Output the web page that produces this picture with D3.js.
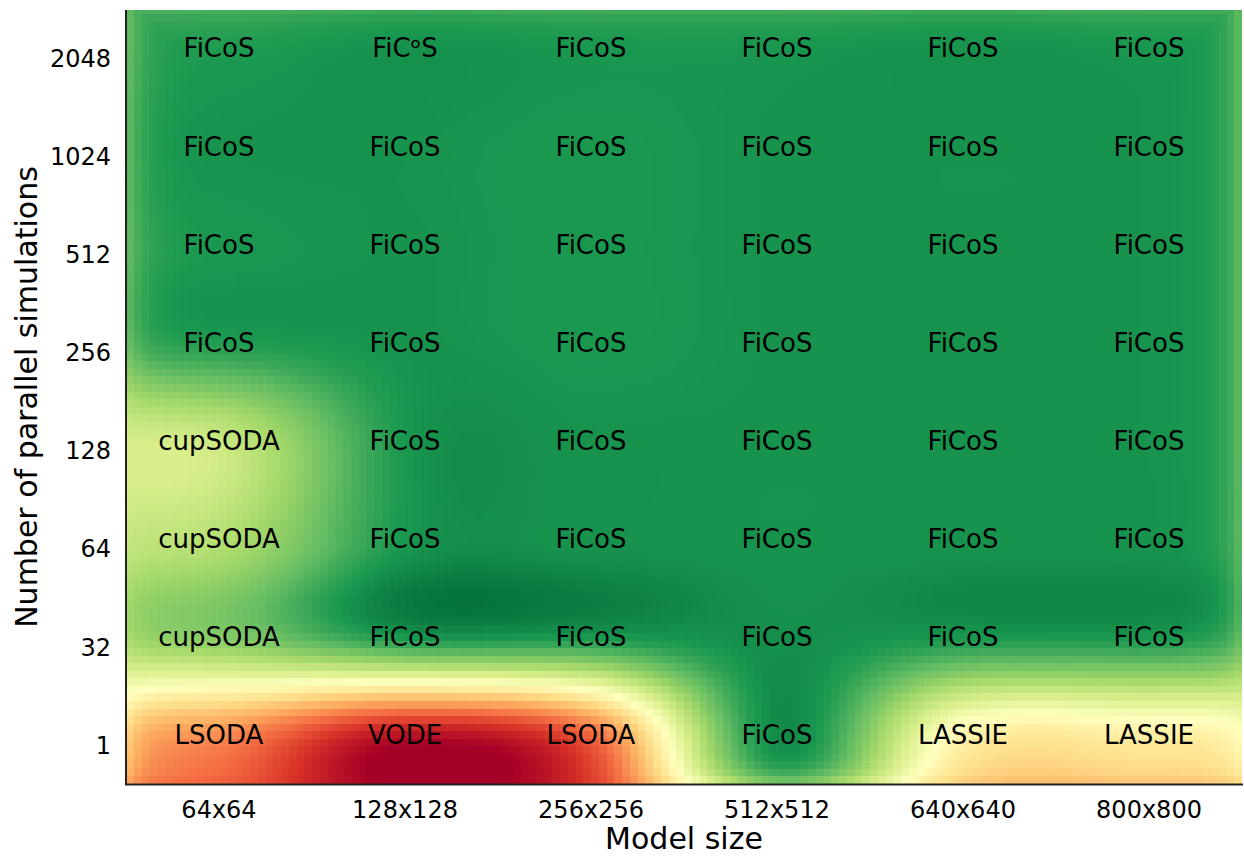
<!DOCTYPE html>
<html>
<head>
<meta charset="utf-8">
<script src="https://cdn.jsdelivr.net/npm/d3@7"></script>
<style>
  body { margin: 0; background: #fff; }
  text { font-family: "DejaVu Sans", sans-serif; }
</style>
</head>
<body>
<div id="chart"></div>
<script>
// best simulator for each (model size, number of parallel simulations)
var modelSizes = ["64x64", "128x128", "256x256", "512x512", "640x640", "800x800"];
var simCounts = ["2048", "1024", "512", "256", "128", "64", "32", "1"];

var winners = [
    ["FiCoS", "FiCᵒS", "FiCoS", "FiCoS", "FiCoS", "FiCoS"],
    ["FiCoS", "FiCoS", "FiCoS", "FiCoS", "FiCoS", "FiCoS"],
    ["FiCoS", "FiCoS", "FiCoS", "FiCoS", "FiCoS", "FiCoS"],
    ["FiCoS", "FiCoS", "FiCoS", "FiCoS", "FiCoS", "FiCoS"],
    ["cupSODA", "FiCoS", "FiCoS", "FiCoS", "FiCoS", "FiCoS"],
    ["cupSODA", "FiCoS", "FiCoS", "FiCoS", "FiCoS", "FiCoS"],
    ["cupSODA", "FiCoS", "FiCoS", "FiCoS", "FiCoS", "FiCoS"],
    ["LSODA", "VODE", "LSODA", "FiCoS", "LASSIE", "LASSIE"]
];

// colour value of each cell (0 = red, 1 = dark green)
var scores = [
    [0.90, 0.92, 0.91, 0.91, 0.92, 0.91],
    [0.91, 0.91, 0.90, 0.91, 0.91, 0.91],
    [0.90, 0.91, 0.90, 0.91, 0.91, 0.91],
    [0.89, 0.91, 0.90, 0.91, 0.91, 0.91],
    [0.63, 0.90, 0.91, 0.91, 0.91, 0.91],
    [0.67, 0.90, 0.91, 0.91, 0.91, 0.91],
    [0.75, 0.90, 0.90, 0.92, 0.90, 0.90],
    [0.25, 0.04, 0.19, 0.93, 0.47, 0.45]
];

var width = 1244, height = 857;
var plot = { left: 126, right: 1242, top: -1, bottom: 784, clipTop: 10 };

var svg = d3.select("#chart")
    .append("svg")
    .attr("width", width)
    .attr("height", height);

var x = d3.scaleBand().domain(modelSizes).range([plot.left, plot.right]);
var y = d3.scaleBand().domain(simCounts).range([plot.top, plot.bottom]);

// continuous cell-index scales, used for the smoothed image
var xc = d3.scaleLinear().domain([-0.5, modelSizes.length - 0.5]).range([plot.left, plot.right]);
var yc = d3.scaleLinear().domain([-0.5, simCounts.length - 0.5]).range([plot.top, plot.bottom]);

var color = d3.scaleLinear()
    .domain(d3.range(11).map(function (i) { return i / 10; }))
    .range(d3.schemeRdYlGn[11])
    .clamp(true);

// bicubic (catmull-rom) resampling of the cell grid, like imshow(interpolation="bicubic")
function cubic(p0, p1, p2, p3, t) {
    return 0.5 * (2 * p1 + (-p0 + p2) * t +
        (2 * p0 - 5 * p1 + 4 * p2 - p3) * t * t +
        (-p0 + 3 * p1 - 3 * p2 + p3) * t * t * t);
}
function cell(r, c) {
    r = Math.max(0, Math.min(simCounts.length - 1, r));
    c = Math.max(0, Math.min(modelSizes.length - 1, c));
    return scores[r][c];
}
function sample(u, v) {
    var c = Math.floor(u), r = Math.floor(v), tu = u - c, tv = v - r;
    var rows = [-1, 0, 1, 2].map(function (k) {
        return cubic(cell(r + k, c - 1), cell(r + k, c), cell(r + k, c + 1), cell(r + k, c + 2), tu);
    });
    return cubic(rows[0], rows[1], rows[2], rows[3], tv);
}

// image is rendered at a coarse resolution, then scaled up (blocky look)
var subX = 24, subY = 13;
var bw = x.bandwidth() / subX, bh = y.bandwidth() / subY;
var blocks = [];
for (var i = 0; i < modelSizes.length * subX; i++) {
    for (var j = 0; j < simCounts.length * subY; j++) {
        var px = plot.left + (i + 0.5) * bw, py = plot.top + (j + 0.5) * bh;
        var val = sample(xc.invert(px), yc.invert(py));
        // border of the resampled image washes out a little
        var dSide = Math.min(px - plot.left, plot.right - px, py - plot.top);
        var w = 0.36 * Math.exp(-dSide / 19);
        val = val * (1 - w) + 0.6 * w;
        var dBottom = plot.bottom - py;
        val = val * (1 - 0.2 * Math.exp(-dBottom / 14));
        blocks.push({ x: plot.left + i * bw, y: plot.top + j * bh, v: val });
    }
}

svg.append("clipPath")
    .attr("id", "plot-clip")
    .append("rect")
    .attr("x", plot.left)
    .attr("y", plot.clipTop)
    .attr("width", plot.right - plot.left)
    .attr("height", plot.bottom - plot.clipTop);

svg.append("g")
    .attr("clip-path", "url(#plot-clip)")
    .selectAll("rect")
    .data(blocks)
    .join("rect")
    .attr("x", d => d.x)
    .attr("y", d => d.y)
    .attr("width", bw + 0.6)
    .attr("height", bh + 0.6)
    .attr("fill", d => color(d.v))
    .attr("shape-rendering", "crispEdges");

// annotations
var labels = [];
simCounts.forEach(function (s, r) {
    modelSizes.forEach(function (m, c) {
        labels.push({ m: m, s: s, text: winners[r][c] });
    });
});
svg.append("g")
    .selectAll("text")
    .data(labels)
    .join("text")
    .attr("x", d => x(d.m) + x.bandwidth() / 2)
    .attr("y", d => y(d.s) + y.bandwidth() / 2)
    .attr("dy", "0.36em")
    .attr("text-anchor", "middle")
    .style("font-size", "26px")
    .style("fill", "#000")
    .text(d => d.text);

// axes
var xAxis = svg.append("g")
    .attr("transform", "translate(0," + plot.bottom + ")")
    .call(d3.axisBottom(x).tickSize(0).tickPadding(17));
var yAxis = svg.append("g")
    .attr("transform", "translate(" + plot.left + ",11)")
    .call(d3.axisLeft(y).tickSize(0).tickPadding(15));
[xAxis, yAxis].forEach(function (a) {
    a.select(".domain").remove();
    a.selectAll("text")
        .style("font-family", "'DejaVu Sans', sans-serif")
        .style("font-size", "24px")
        .style("fill", "#000");
});

// spines
svg.append("line")
    .attr("x1", plot.left).attr("x2", plot.left)
    .attr("y1", plot.clipTop).attr("y2", plot.bottom + 1)
    .style("stroke", "#222").style("stroke-width", 2);
svg.append("line")
    .attr("x1", plot.left - 1).attr("x2", plot.right + 1)
    .attr("y1", plot.bottom + 0.5).attr("y2", plot.bottom + 0.5)
    .style("stroke", "#222").style("stroke-width", 2);

// axis titles
svg.append("text")
    .attr("x", (plot.left + plot.right) / 2)
    .attr("y", 849)
    .attr("text-anchor", "middle")
    .style("font-size", "30px")
    .text("Model size");

svg.append("text")
    .attr("transform", "translate(36.5," + (plot.clipTop + plot.bottom) / 2 + ") rotate(-90)")
    .attr("text-anchor", "middle")
    .style("font-size", "30px")
    .text("Number of parallel simulations");
</script>
</body>
</html>
